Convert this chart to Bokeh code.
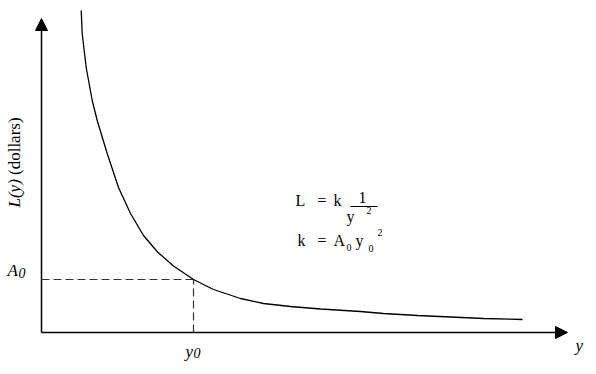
import math
from bokeh.plotting import figure
from bokeh.models import Range1d, Arrow, NormalHead, Label
from bokeh.embed import file_html
from bokeh.resources import INLINE

# Curve (income y, loss L(y)) in chart units
income = [39.7, 40.7, 44.7, 50.7, 55.7, 65.7, 77, 89, 102, 116, 132, 152,
          172, 199, 222, 249, 279, 319, 342, 376, 409, 442, 481]
loss = [322, 299, 265, 232, 212, 179, 145, 119, 97, 80.5, 66.5, 53,
        43, 34, 29, 26, 23.5, 21, 19, 17, 15.5, 14, 13]

y0 = 152      # reference income
A0 = 53       # loss at y0
x_axis_end = 526
y_axis_end = 314

SERIF = "Liberation Serif"
SHIFT = 5     # baseline correction in screen pixels

p = figure(width=596, height=374, x_range=Range1d(-41, 555), y_range=Range1d(-42, 332),
           output_backend="svg", toolbar_location=None, min_border=0,
           x_axis_location=None, y_axis_location=None)
p.grid.visible = False
p.outline_line_color = None
p.background_fill_color = "white"
p.border_fill_color = "white"

# axes as arrows
for xs, ys, xe, ye in [(0, 0, x_axis_end, 0), (0, 0, 0, y_axis_end)]:
    p.add_layout(Arrow(end=NormalHead(size=12, fill_color="black", line_color="black", line_width=1),
                       x_start=xs, y_start=ys, x_end=xe, y_end=ye,
                       line_color="black", line_width=1.5))

# dashed guides
p.line([0, y0], [A0, A0], line_color="#333333", line_width=1.2, line_dash="8 4")
p.line([y0, y0], [0, A0], line_color="#333333", line_width=1.2, line_dash="8 4")

# curve
p.line(income, loss, line_color="black", line_width=1.3)


def lab(x, y, text, size=16, style="normal", angle=0):
    xo, yo = (-SHIFT, 0) if angle else (0, SHIFT)
    p.add_layout(Label(x=x, y=y, x_offset=xo, y_offset=yo, text=text, text_font=SERIF,
                       text_font_size=f"{size}px", text_font_style=style, text_color="black",
                       angle=angle, text_align="left", text_baseline="alphabetic"))


# y-axis title
lab(-22, 125, "L(y)", 17, "italic", math.pi / 2)
lab(-22, 157.5, "(dollars)", 17, "normal", math.pi / 2)

# A0 label
lab(-34, 57, "A", 17, "italic")
lab(-23, 55, "0", 14, "italic")

# y0 label
lab(144, -24, "y", 17, "italic")
lab(152, -25, "0", 14, "italic")

# x-axis label
lab(534, -18, "y", 17, "italic")

# formula line 1: L = k 1/y^2
lab(254, 127, "L", 16)
lab(276, 127, "=", 16)
lab(292, 127, "k", 16)
lab(317, 130, "1", 16)
p.segment(x0=[309], y0=[126], x1=[336], y1=[126], line_color="black", line_width=1)
lab(305, 111, "y", 16)
lab(325, 117, "2", 10)

# formula line 2: k = A0 y0^2
lab(256, 87, "k", 16)
lab(276, 87, "=", 16)
lab(292, 87, "A", 16)
lab(305, 80, "0", 10)
lab(314, 87, "y", 16)
lab(327, 79, "0", 10)
lab(336, 95, "2", 10)

open("out.html", "w").write(file_html(p, INLINE))
